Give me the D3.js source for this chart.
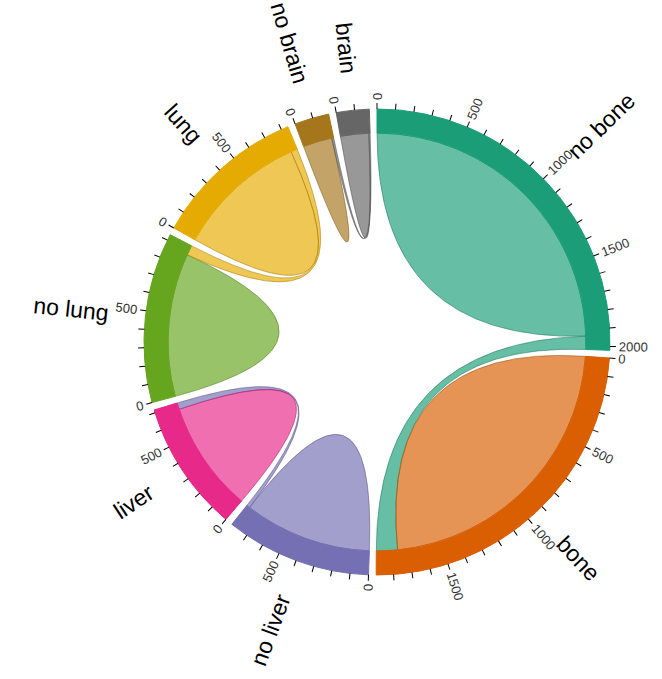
<!DOCTYPE html>
<html>
<head>
<meta charset="utf-8">
<script src="https://cdn.jsdelivr.net/npm/d3@7"></script>
<style>
body { margin: 0; background: #fff; }
text { font-family: "Liberation Sans", Arial, sans-serif; }
</style>
</head>
<body>
<div id="plot"></div>
<script>
// groups, in drawing order (clockwise from the top)
let names = ['no bone', 'bone', 'no liver', 'liver', 'no lung', 'lung', 'no brain', 'brain'];
// flow that stays in the group itself
let selfFlow = [1941, 1765, 780, 676, 873, 799, 177, 172];
// flow to the paired group (no X <-> X)
let pairFlow = [80, 129, 20, 40, 60, 40, 12, 8];
let tickStep = 100, labelStep = 500;

let width = 662, height = 679;
let outerRadius = 233, innerRadius = 209;

let matrix = names.map((n, i) => names.map((m, j) => {
  if (i === j) return selfFlow[i];
  if (j === (i ^ 1)) return pairFlow[i];
  return 0;
}));

let color = d3.scaleOrdinal().domain(d3.range(names.length)).range(d3.schemeDark2);

let chord = d3.chord().padAngle(0.033).sortSubgroups(d3.descending);
let arc = d3.arc().innerRadius(innerRadius).outerRadius(outerRadius);
let ribbon = d3.ribbon().radius(innerRadius);

let svg = d3.select('#plot').append('svg').attr('width', width).attr('height', height);
let g = svg.append('g').attr('transform', 'translate(377,342)');

let chords = chord(matrix);

// ribbons
g.append('g')
  .selectAll('path')
  .data(chords)
  .enter().append('path')
  .attr('d', ribbon)
  .style('fill', d => color(d.target.index))
  .style('fill-opacity', 0.67)
  .style('stroke', d => d3.rgb(color(d.target.index)).darker())
  .style('stroke-opacity', 0.5)
  .style('stroke-width', 1);

let group = g.append('g')
  .selectAll('g')
  .data(chords.groups)
  .enter().append('g');

group.append('path')
  .attr('d', arc)
  .style('fill', d => color(d.index))
  .style('stroke', d => color(d.index));

function groupTicks(d, step) {
  let k = (d.endAngle - d.startAngle) / d.value;
  return d3.range(0, d.value, step).map(value => ({value: value, angle: value * k + d.startAngle}));
}

let groupTick = group.selectAll('.tick')
  .data(d => groupTicks(d, tickStep))
  .enter().append('g')
  .attr('class', 'tick')
  .attr('transform', d => `rotate(${d.angle * 180 / Math.PI - 90}) translate(${outerRadius},0)`);

groupTick.append('line')
  .attr('x2', 6)
  .attr('stroke', '#000');

groupTick.filter(d => d.value % labelStep === 0)
  .append('text')
  .attr('x', 9)
  .attr('dy', '.35em')
  .attr('transform', d => d.angle > Math.PI ? 'rotate(180) translate(-18)' : null)
  .attr('text-anchor', d => d.angle > Math.PI ? 'end' : null)
  .style('font-size', '13px')
  .style('fill', '#333')
  .text(d => d3.format('d')(d.value));

// group names
group.append('text')
  .each(d => { d.mid = (d.startAngle + d.endAngle) / 2; })
  .attr('dy', '.35em')
  .attr('transform', d => `rotate(${d.mid * 180 / Math.PI - 90}) translate(${outerRadius + 37})` + (d.mid > Math.PI ? ' rotate(180)' : ''))
  .attr('text-anchor', d => d.mid > Math.PI ? 'end' : 'start')
  .style('font-size', '23px')
  .style('fill', '#000')
  .text(d => names[d.index]);
</script>
</body>
</html>
